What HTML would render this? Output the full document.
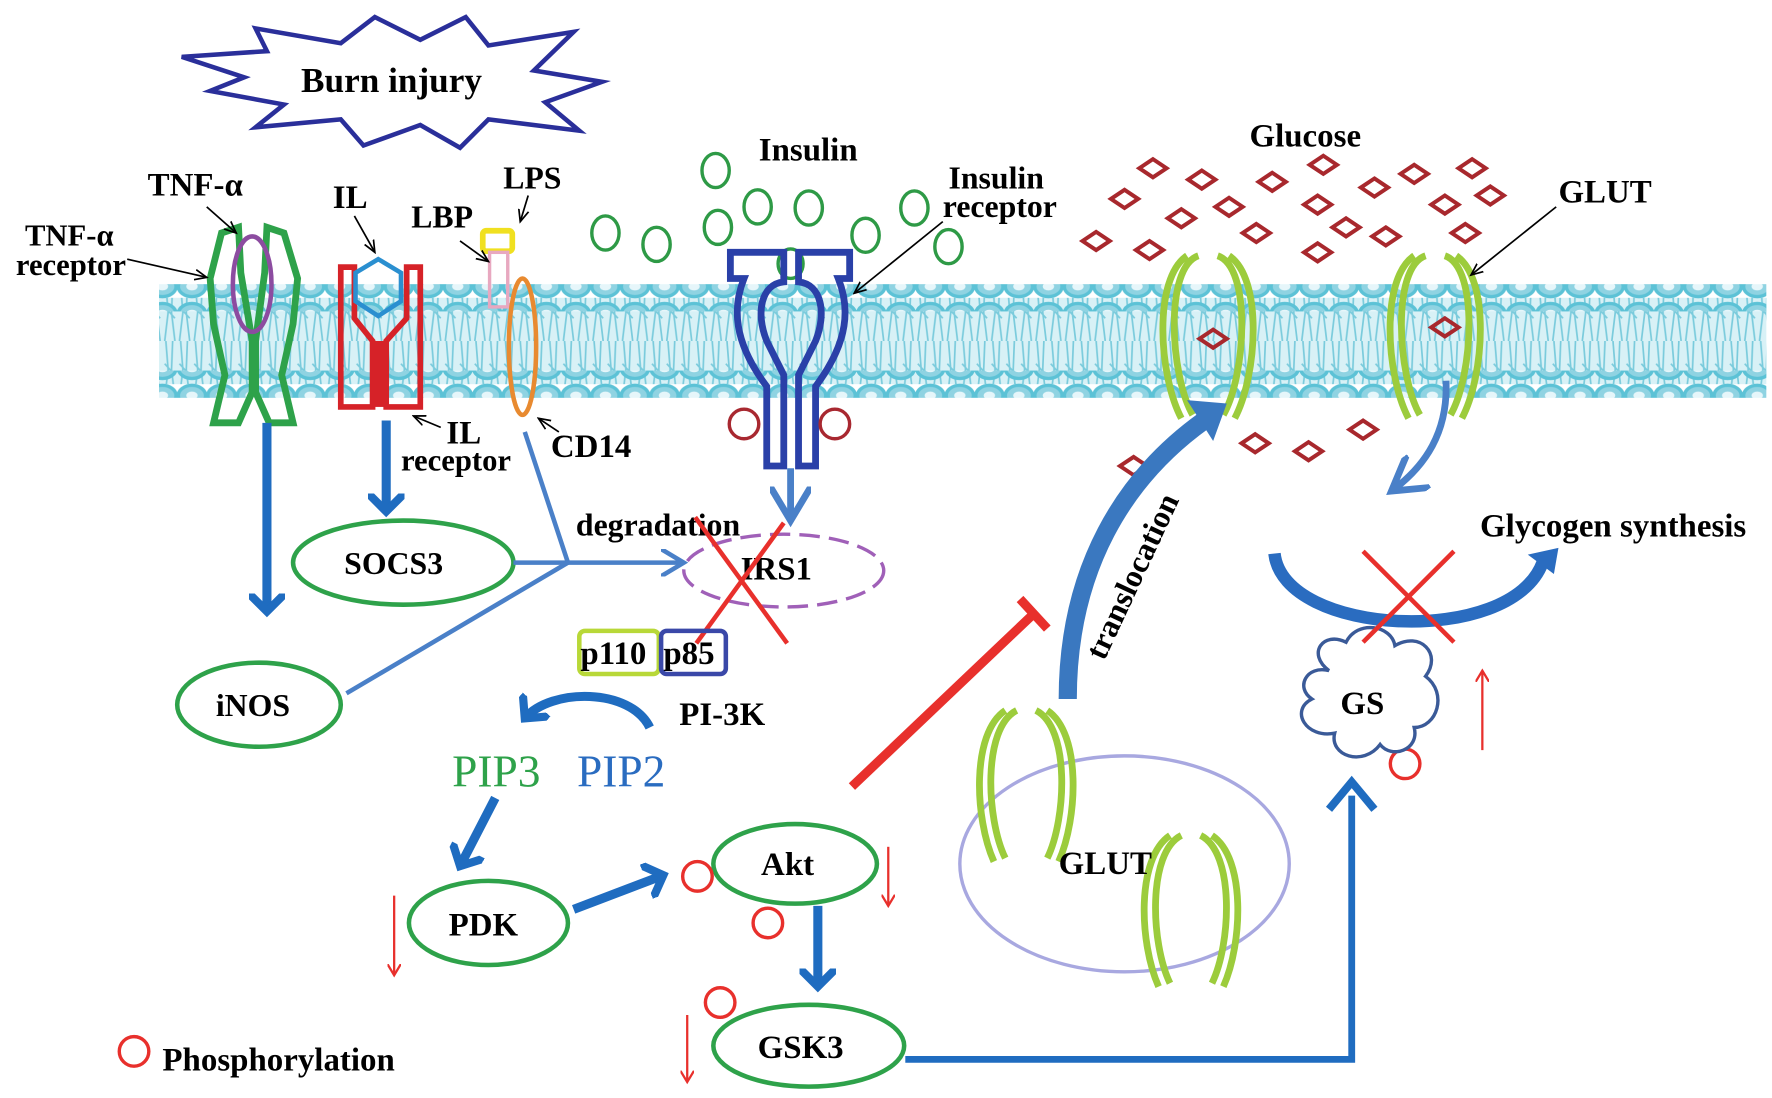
<!DOCTYPE html>
<html><head><meta charset="utf-8"><style>
html,body{margin:0;padding:0;background:#fff;}
svg{display:block;}
text{font-family:"Liberation Serif",serif;font-weight:bold;fill:#000;}
</style></head><body>
<svg width="1772" height="1098" viewBox="0 0 1560 966" preserveAspectRatio="none" xmlns="http://www.w3.org/2000/svg">
<defs>
<pattern id="beads" x="0" y="0" width="26" height="24" patternUnits="userSpaceOnUse">
<ellipse cx="13" cy="12" rx="12" ry="9" fill="#8fd3e2" stroke="#5cc2d6" stroke-width="3"/>
<ellipse cx="13" cy="12" rx="5" ry="3.5" fill="#e6f6fa"/>
</pattern>
<pattern id="tails" x="0" y="0" width="13" height="50" patternUnits="userSpaceOnUse">
<rect width="13" height="50" fill="#d8f1f6"/>
<path d="M3 0 L5 25 L2 50 M9 0 L8 25 L11 50 M2 20 L11 30" stroke="#7acbdc" stroke-width="1.5" fill="none"/>
</pattern>
<marker id="ab" markerWidth="4" markerHeight="4" refX="2" refY="2" orient="auto" markerUnits="strokeWidth"><path d="M0,0 L2,2 L0,4" fill="none" stroke="#1f6cc0" stroke-width="0.9"/></marker>
<marker id="al" markerWidth="6" markerHeight="6" refX="5" refY="3" orient="auto" markerUnits="strokeWidth"><path d="M0,0 L5,3 L0,6" fill="none" stroke="#4a80c8" stroke-width="1"/></marker>
<marker id="ar" markerWidth="6" markerHeight="6" refX="5" refY="3" orient="auto" markerUnits="strokeWidth"><path d="M0,0 L5,3 L0,6" fill="none" stroke="#e8302c" stroke-width="1"/></marker>
<marker id="ak" markerWidth="8" markerHeight="8" refX="7" refY="4" orient="auto" markerUnits="strokeWidth"><path d="M0,1 L7,4 L0,7" fill="none" stroke="#000" stroke-width="1"/></marker>
</defs>

<!-- membrane -->
<rect x="140" y="262" width="1415" height="76" fill="url(#tails)"/>
<rect x="140" y="250" width="1415" height="24" fill="url(#beads)"/>
<rect x="140" y="326" width="1415" height="24" fill="url(#beads)"/>

<!-- burn injury star -->
<polygon points="160,50 235,45 225,25 300,38 330,15 370,35 410,15 430,40 505,28 470,62 530,72 480,90 510,115 430,105 405,130 370,110 320,128 300,105 225,112 250,92 185,80 215,68" fill="#fff" stroke="#2a2f9a" stroke-width="4"/>
<text x="265" y="81" font-size="31">Burn injury</text>

<!-- TNF receptor -->
<path d="M195,205 L210,200 L212,240 L222,300 L222,345 L210,372 L188,372 L198,330 L188,285 L185,245 Z" fill="none" stroke="#2ea24a" stroke-width="6"/>
<path d="M250,205 L235,200 L233,240 L225,300 L225,345 L237,372 L258,372 L248,330 L258,285 L262,245 Z" fill="none" stroke="#2ea24a" stroke-width="6"/>
<ellipse cx="222" cy="250" rx="17" ry="42" fill="none" stroke="#8c4ca0" stroke-width="4"/>
<text x="130" y="172" font-size="29">TNF-α</text>
<text x="22" y="216" font-size="27">TNF-α</text>
<text x="14" y="242" font-size="27">receptor</text>
<line x1="112" y1="228" x2="182" y2="244" stroke="#000" stroke-width="1.5" marker-end="url(#ak)"/>
<line x1="182" y1="182" x2="208" y2="205" stroke="#000" stroke-width="1.5" marker-end="url(#ak)"/>

<!-- IL receptor -->
<path d="M300,235 L312,235 L312,280 L328,300 L328,358 L322,358 L300,358 Z M370,235 L358,235 L358,280 L340,300 L340,358 L370,358 Z" fill="none" stroke="#d62228" stroke-width="5"/>
<rect x="328" y="300" width="12" height="58" fill="#d62228"/>
<polygon points="333,228 353,240 353,265 333,278 313,265 313,240" fill="none" stroke="#2a8fd0" stroke-width="4"/>
<text x="293" y="183" font-size="29">IL</text>
<line x1="312" y1="190" x2="330" y2="222" stroke="#000" stroke-width="1.5" marker-end="url(#ak)"/>
<text x="393" y="390" font-size="29">IL</text>
<text x="353" y="414" font-size="27">receptor</text>
<line x1="388" y1="376" x2="364" y2="366" stroke="#000" stroke-width="1.5" marker-end="url(#ak)"/>

<!-- LBP / LPS / CD14 -->
<rect x="425" y="203" width="26" height="18" rx="3" fill="none" stroke="#f0e020" stroke-width="5"/>
<rect x="431" y="222" width="16" height="48" fill="none" stroke="#e8a8c0" stroke-width="3"/>
<ellipse cx="460" cy="305" rx="12" ry="60" fill="none" stroke="#e88a30" stroke-width="4"/>
<text x="362" y="200" font-size="28">LBP</text>
<text x="443" y="166" font-size="28">LPS</text>
<line x1="405" y1="212" x2="430" y2="230" stroke="#000" stroke-width="1.5" marker-end="url(#ak)"/>
<line x1="465" y1="172" x2="458" y2="195" stroke="#000" stroke-width="1.5" marker-end="url(#ak)"/>
<text x="485" y="402" font-size="29">CD14</text>
<line x1="492" y1="380" x2="474" y2="368" stroke="#000" stroke-width="1.5" marker-end="url(#ak)"/>

<!-- insulin -->
<text x="668" y="141" font-size="29">Insulin</text>
<g fill="none" stroke="#2e9a46" stroke-width="3">
<ellipse cx="533" cy="205" rx="12" ry="15"/><ellipse cx="578" cy="215" rx="12" ry="15"/>
<ellipse cx="630" cy="150" rx="12" ry="15"/><ellipse cx="632" cy="200" rx="12" ry="15"/>
<ellipse cx="667" cy="182" rx="12" ry="15"/><ellipse cx="712" cy="183" rx="12" ry="15"/>
<ellipse cx="762" cy="207" rx="12" ry="15"/><ellipse cx="805" cy="183" rx="12" ry="15"/>
<ellipse cx="835" cy="217" rx="12" ry="15"/><ellipse cx="696" cy="232" rx="11" ry="13"/>
</g>
<text x="835" y="166" font-size="28">Insulin</text>
<text x="830" y="191" font-size="28">receptor</text>
<line x1="830" y1="195" x2="752" y2="258" stroke="#000" stroke-width="1.5" marker-end="url(#ak)"/>
<g fill="none" stroke="#2a40a8" stroke-width="6">
<path d="M643,222 L690,222 L690,248 C670,250 665,275 675,300 L690,330 L690,410 L675,410 L675,340 C645,300 645,270 655,245 L643,245 Z"/>
<path d="M748,222 L703,222 L703,248 C723,250 728,275 718,300 L703,330 L703,410 L718,410 L718,340 C748,300 748,270 738,245 L748,245 Z"/>
</g>
<circle cx="655" cy="373" r="13" fill="none" stroke="#a82830" stroke-width="3"/>
<circle cx="735" cy="373" r="13" fill="none" stroke="#a82830" stroke-width="3"/>
<line x1="696" y1="412" x2="696" y2="458" stroke="#4a80c8" stroke-width="6" marker-end="url(#al)"/>

<!-- glucose diamonds -->
<text x="1100" y="129" font-size="29">Glucose</text>
<g fill="none" stroke="#a8282d" stroke-width="3.5">
<path d="M0,-8 L12,0 L0,8 L-12,0 Z" transform="translate(1015,148)"/>
<path d="M0,-8 L12,0 L0,8 L-12,0 Z" transform="translate(1058,158)"/>
<path d="M0,-8 L12,0 L0,8 L-12,0 Z" transform="translate(1120,160)"/>
<path d="M0,-8 L12,0 L0,8 L-12,0 Z" transform="translate(1165,145)"/>
<path d="M0,-8 L12,0 L0,8 L-12,0 Z" transform="translate(1210,165)"/>
<path d="M0,-8 L12,0 L0,8 L-12,0 Z" transform="translate(1245,153)"/>
<path d="M0,-8 L12,0 L0,8 L-12,0 Z" transform="translate(1296,148)"/>
<path d="M0,-8 L12,0 L0,8 L-12,0 Z" transform="translate(990,175)"/>
<path d="M0,-8 L12,0 L0,8 L-12,0 Z" transform="translate(1040,192)"/>
<path d="M0,-8 L12,0 L0,8 L-12,0 Z" transform="translate(1082,182)"/>
<path d="M0,-8 L12,0 L0,8 L-12,0 Z" transform="translate(1160,180)"/>
<path d="M0,-8 L12,0 L0,8 L-12,0 Z" transform="translate(1272,180)"/>
<path d="M0,-8 L12,0 L0,8 L-12,0 Z" transform="translate(1312,172)"/>
<path d="M0,-8 L12,0 L0,8 L-12,0 Z" transform="translate(965,212)"/>
<path d="M0,-8 L12,0 L0,8 L-12,0 Z" transform="translate(1012,220)"/>
<path d="M0,-8 L12,0 L0,8 L-12,0 Z" transform="translate(1106,205)"/>
<path d="M0,-8 L12,0 L0,8 L-12,0 Z" transform="translate(1185,200)"/>
<path d="M0,-8 L12,0 L0,8 L-12,0 Z" transform="translate(1220,208)"/>
<path d="M0,-8 L12,0 L0,8 L-12,0 Z" transform="translate(1290,205)"/>
<path d="M0,-8 L12,0 L0,8 L-12,0 Z" transform="translate(1160,222)"/>
<path d="M0,-8 L12,0 L0,8 L-12,0 Z" transform="translate(1068,298)"/>
<path d="M0,-8 L12,0 L0,8 L-12,0 Z" transform="translate(1272,288)"/>
<path d="M0,-8 L12,0 L0,8 L-12,0 Z" transform="translate(1105,390)"/>
<path d="M0,-8 L12,0 L0,8 L-12,0 Z" transform="translate(1152,397)"/>
<path d="M0,-8 L12,0 L0,8 L-12,0 Z" transform="translate(1200,378)"/>
<path d="M0,-8 L12,0 L0,8 L-12,0 Z" transform="translate(998,410)"/>
</g>

<!-- GLUT on membrane -->
<g fill="none" stroke="#9ccc3c" stroke-width="6">
<path d="M1055,225 C1025,235 1030,330 1050,365 M1045,225 C1015,245 1020,330 1040,368"/>
<path d="M1072,225 C1102,235 1097,330 1077,365 M1082,225 C1112,245 1107,330 1087,368"/>
<path d="M1255,225 C1225,235 1230,330 1250,365 M1245,225 C1215,245 1220,330 1240,368"/>
<path d="M1272,225 C1302,235 1297,330 1277,365 M1282,225 C1312,245 1307,330 1287,368"/>
</g>
<text x="1372" y="178" font-size="29">GLUT</text>
<line x1="1370" y1="182" x2="1295" y2="242" stroke="#000" stroke-width="1.5" marker-end="url(#ak)"/>
<path d="M1273,335 C1275,380 1255,410 1225,432" fill="none" stroke="#4a80c8" stroke-width="6" marker-end="url(#al)"/>

<!-- left pathway -->
<line x1="235" y1="372" x2="235" y2="538" stroke="#1f6cc0" stroke-width="8" marker-end="url(#ab)"/>
<line x1="340" y1="370" x2="340" y2="450" stroke="#1f6cc0" stroke-width="8" marker-end="url(#ab)"/>
<ellipse cx="355" cy="495" rx="97" ry="37" fill="#fff" stroke="#2ea24a" stroke-width="4"/>
<text x="303" y="505" font-size="28">SOCS3</text>
<ellipse cx="228" cy="620" rx="72" ry="37" fill="#fff" stroke="#2ea24a" stroke-width="4"/>
<text x="190" y="630" font-size="28">iNOS</text>
<g stroke="#4a80c8" stroke-width="4" fill="none">
<line x1="452" y1="495" x2="500" y2="495"/>
<line x1="462" y1="380" x2="500" y2="495"/>
<line x1="305" y1="610" x2="500" y2="495"/>
<line x1="500" y1="495" x2="602" y2="495" marker-end="url(#al)"/>
</g>
<text x="507" y="471" font-size="28">degradation</text>
<ellipse cx="690" cy="502" rx="88" ry="32" fill="none" stroke="#a060b8" stroke-width="3" stroke-dasharray="18,8"/>
<text x="652" y="510" font-size="29">IRS1</text>
<line x1="612" y1="455" x2="693" y2="566" stroke="#e8302c" stroke-width="4"/>
<line x1="690" y1="460" x2="613" y2="566" stroke="#e8302c" stroke-width="4"/>
<rect x="510" y="555" width="70" height="38" rx="5" fill="none" stroke="#b8d838" stroke-width="4"/>
<rect x="582" y="555" width="57" height="38" rx="5" fill="none" stroke="#3a48a8" stroke-width="4"/>
<text x="511" y="584" font-size="29">p110</text>
<text x="584" y="584" font-size="29">p85</text>
<text x="598" y="638" font-size="29">PI-3K</text>
<path d="M572,640 C555,605 485,605 462,632" fill="none" stroke="#1f6cc0" stroke-width="8" marker-end="url(#ab)"/>
<text x="398" y="692" font-size="40" style="font-weight:normal;fill:#2ea24a">PIP3</text>
<text x="508" y="692" font-size="40" style="font-weight:normal;fill:#2a6cc0">PIP2</text>
<line x1="436" y1="702" x2="405" y2="762" stroke="#1f6cc0" stroke-width="8" marker-end="url(#ab)"/>
<ellipse cx="430" cy="812" rx="70" ry="37" fill="#fff" stroke="#2ea24a" stroke-width="4"/>
<text x="395" y="823" font-size="29">PDK</text>
<line x1="347" y1="788" x2="347" y2="858" stroke="#e8302c" stroke-width="2" marker-end="url(#ar)"/>
<line x1="505" y1="800" x2="584" y2="770" stroke="#1f6cc0" stroke-width="8" marker-end="url(#ab)"/>
<ellipse cx="700" cy="760" rx="72" ry="35" fill="#fff" stroke="#2ea24a" stroke-width="4"/>
<text x="670" y="770" font-size="29">Akt</text>
<g fill="none" stroke="#e8302c" stroke-width="3">
<circle cx="614" cy="771" r="13"/><circle cx="676" cy="812" r="13"/><circle cx="634" cy="882" r="13"/>
<circle cx="1237" cy="672" r="13"/><circle cx="118" cy="925" r="13"/>
</g>
<line x1="782" y1="745" x2="782" y2="797" stroke="#e8302c" stroke-width="2" marker-end="url(#ar)"/>
<line x1="720" y1="797" x2="720" y2="868" stroke="#1f6cc0" stroke-width="8" marker-end="url(#ab)"/>
<ellipse cx="712" cy="920" rx="84" ry="36" fill="#fff" stroke="#2ea24a" stroke-width="4"/>
<text x="667" y="931" font-size="29">GSK3</text>
<line x1="605" y1="893" x2="605" y2="952" stroke="#e8302c" stroke-width="2" marker-end="url(#ar)"/>
<path d="M797,932 L1190,932 L1190,700" fill="none" stroke="#1f6cc0" stroke-width="6"/>
<path d="M1170,712 L1190,688 L1210,712" fill="none" stroke="#1f6cc0" stroke-width="7"/>

<!-- inhibition -->
<line x1="750" y1="692" x2="910" y2="540" stroke="#e8302c" stroke-width="8"/>
<line x1="898" y1="527" x2="922" y2="553" stroke="#e8302c" stroke-width="8"/>

<!-- translocation arrow -->
<path d="M940,615 C940,500 990,420 1060,370" fill="none" stroke="#3a78c0" stroke-width="16"/>
<polygon points="1045,352 1080,355 1068,388" fill="#3a78c0"/>
<text transform="translate(972,582) rotate(-65)" font-size="28">translocation</text>

<!-- vesicle -->
<ellipse cx="990" cy="760" rx="145" ry="95" fill="none" stroke="#a8a8e0" stroke-width="3"/>
<g fill="none" stroke="#9ccc3c" stroke-width="6">
<path d="M895,625 C865,640 868,720 885,755 M885,625 C855,645 858,720 875,758"/>
<path d="M912,625 C942,640 939,720 922,755 M922,625 C952,645 949,720 932,758"/>
<path d="M1040,735 C1010,750 1013,830 1030,865 M1030,735 C1000,755 1003,830 1020,868"/>
<path d="M1057,735 C1087,750 1084,830 1067,865 M1067,735 C1097,755 1094,830 1077,868"/>
</g>
<text x="932" y="769" font-size="29">GLUT</text>

<!-- GS -->
<path d="M1170,590 C1150,575 1165,555 1185,565 C1195,545 1225,550 1228,568 C1250,555 1270,575 1255,595 C1275,610 1265,640 1245,640 C1250,660 1225,668 1215,655 C1200,675 1170,665 1175,645 C1150,650 1135,625 1155,615 C1140,605 1150,585 1170,590 Z" fill="#fff" stroke="#3a5a98" stroke-width="3"/>
<text x="1180" y="628" font-size="29">GS</text>
<line x1="1305" y1="660" x2="1305" y2="590" stroke="#e8302c" stroke-width="2" marker-end="url(#ar)"/>

<!-- glycogen synthesis -->
<path d="M1122,487 C1130,560 1330,570 1358,495" fill="none" stroke="#2a6cc0" stroke-width="11"/>
<polygon points="1345,488 1372,482 1368,505" fill="#2a6cc0"/>
<line x1="1200" y1="485" x2="1280" y2="565" stroke="#e8302c" stroke-width="4"/>
<line x1="1280" y1="485" x2="1200" y2="565" stroke="#e8302c" stroke-width="4"/>
<text x="1303" y="472" font-size="29">Glycogen synthesis</text>

<text x="143" y="942" font-size="29">Phosphorylation</text>
</svg>
</body></html>
